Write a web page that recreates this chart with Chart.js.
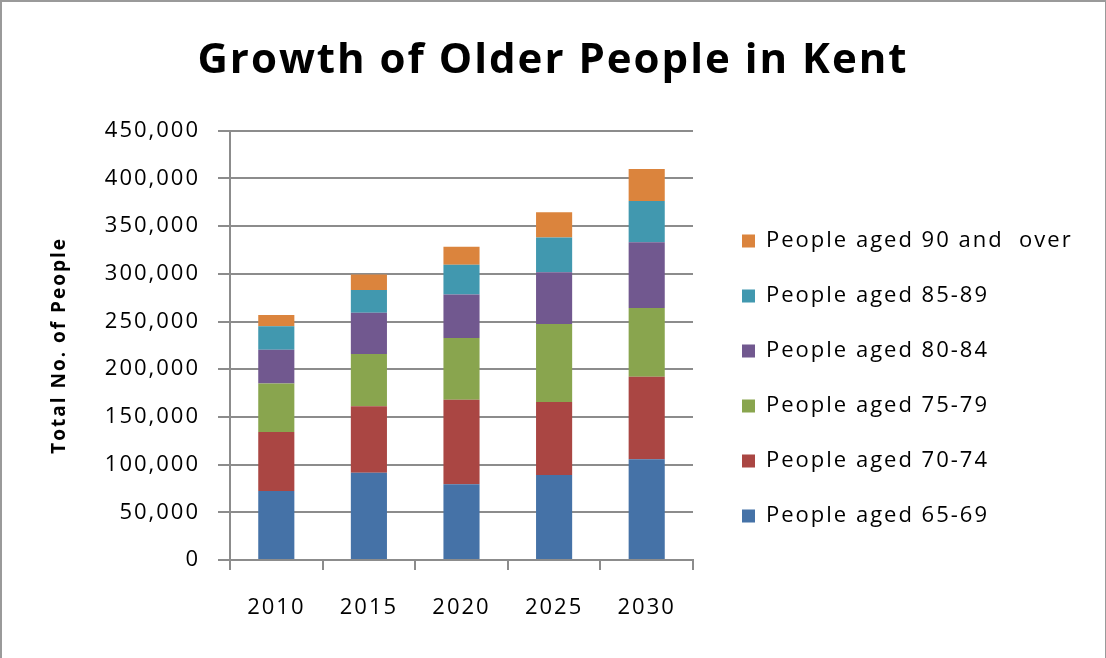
<!DOCTYPE html>
<html>
<head>
<meta charset="utf-8">
<title>Growth of Older People in Kent</title>
<script src="https://cdn.jsdelivr.net/npm/chart.js@4/dist/chart.umd.min.js"></script>
<style>
  html, body { margin: 0; padding: 0; background: #ffffff; }
  #wrap { position: relative; width: 1106px; height: 658px; }
  #frame {
    position: absolute; left: 0; top: 0; width: 1103px; height: 660px;
    border-left: 2px solid #9a9a9a; border-top: 2px solid #9a9a9a; border-right: 1px solid #9a9a9a;
    pointer-events: none;
  }
</style>
</head>
<body>
<div id="wrap">
  <canvas id="chart" width="1106" height="658"></canvas>
  <div id="frame"></div>
</div>
<script>
// Projected population of older people in Kent, by age band
const years = ['2010', '2015', '2020', '2025', '2030'];
const aged65to69 = [72200, 91400, 79500, 89000, 105700];
const aged70to74 = [62100, 69800, 88600, 76700, 86500];
const aged75to79 = [50600, 54700, 64600, 81600, 71900];
const aged80to84 = [35600, 43300, 45700, 54400, 69000];
const aged85to89 = [24400, 23700, 31000, 36300, 43300];
const aged90plus = [11800, 16400, 18900, 26500, 33500];

const yMax = 450000;
const yStep = 50000;

const FONT = "'Open Sans', 'DejaVu Sans', sans-serif";
const GRID = '#8c8c8c';

// slightly wider text tracking, applied to every canvas text draw
const tracking = {
  id: 'tracking',
  beforeUpdate(chart) { chart.ctx.letterSpacing = '2px'; },
  beforeDraw(chart) { chart.ctx.letterSpacing = '2px'; }
};

// place the legend block right of the plot and centre the title on the full width
const blockPlacement = {
  id: 'blockPlacement',
  afterLayout(chart) {
    const lg = chart.legend;
    const dx = 742 - (lg.left + lg.options.labels.padding);
    const dy = 49.5;
    lg.left += dx; lg.right = chart.width; lg.width = lg.right - lg.left;
    lg.top += dy; lg.bottom += dy;
    const tb = chart.titleBlock;
    tb.left = 0; tb.right = chart.width; tb.width = chart.width;
  }
};

const ctx = document.getElementById('chart').getContext('2d');
new Chart(ctx, {
  type: 'bar',
  data: {
    labels: years,
    datasets: [
      { label: 'People aged 65-69', data: aged65to69, backgroundColor: '#4572A7' },
      { label: 'People aged 70-74', data: aged70to74, backgroundColor: '#AA4643' },
      { label: 'People aged 75-79', data: aged75to79, backgroundColor: '#89A54E' },
      { label: 'People aged 80-84', data: aged80to84, backgroundColor: '#71588F' },
      { label: 'People aged 85-89', data: aged85to89, backgroundColor: '#4198AF' },
      { label: 'People aged 90 and  over', data: aged90plus, backgroundColor: '#DB843D' }
    ]
  },
  options: {
    responsive: false,
    animation: false,
    devicePixelRatio: 1,
    categoryPercentage: 1,
    barPercentage: 0.39,
    layout: { padding: { top: 0, left: 0, right: 73, bottom: 0 } },
    plugins: {
      title: {
        display: true,
        text: 'Growth of Older People in Kent',
        color: '#000000',
        font: { family: FONT, size: 42, weight: 'bold' },
        padding: { top: 36, bottom: 44.3 }
      },
      legend: {
        position: 'right',
        reverse: true,
        maxWidth: 340,
        labels: {
          color: '#000000',
          font: { family: FONT, size: 22 },
          boxWidth: 13,
          boxHeight: 13,
          padding: 33
        }
      },
      tooltip: { enabled: false }
    },
    scales: {
      x: {
        stacked: true,
        afterFit(scale) { scale.height = 98; },
        grid: { display: true, drawOnChartArea: false, drawTicks: true, tickLength: 10, color: GRID, lineWidth: 2 },
        border: { display: true, color: GRID, width: 2 },
        ticks: { color: '#000000', font: { family: FONT, size: 22 }, padding: 25, maxRotation: 0 }
      },
      y: {
        stacked: true,
        min: 0,
        max: yMax,
        afterFit(scale) { scale.width = 230; },
        grid: { color: GRID, lineWidth: 2, tickLength: 12 },
        border: { display: true, color: GRID, width: 2 },
        ticks: {
          stepSize: yStep,
          color: '#000000',
          font: { family: FONT, size: 22 },
          padding: 18,
          callback: (v) => v.toLocaleString('en-US')
        },
        title: {
          display: true,
          text: 'Total No. of People',
          color: '#000000',
          font: { family: FONT, size: 19, weight: 'bold' },
          padding: { top: 48.6, bottom: 0 }
        }
      }
    }
  },
  plugins: [tracking, blockPlacement]
});
</script>
</body>
</html>
